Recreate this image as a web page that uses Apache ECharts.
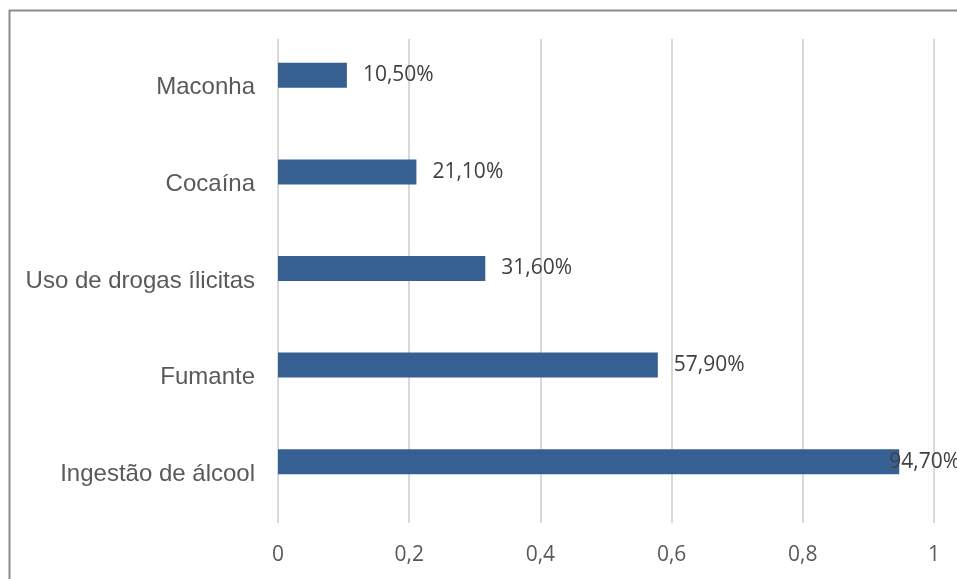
<!DOCTYPE html>
<html>
<head>
<meta charset="utf-8">
<style>
  html, body { margin: 0; padding: 0; background: #fff; }
  #chart { width: 957px; height: 579px; }
</style>
<script src="https://cdn.jsdelivr.net/npm/echarts@6/dist/echarts.min.js"></script>
</head>
<body>
<div id="chart"></div>
<script>
// Categories listed bottom to top (category y axis starts at the bottom)
const categories = ['Ingestão de álcool', 'Fumante', 'Uso de drogas ílicitas', 'Cocaína', 'Maconha'];
const values = [0.947, 0.579, 0.316, 0.211, 0.105];
const valueLabels = ['94,70%', '57,90%', '31,60%', '21,10%', '10,50%'];
const xTicks = [0, 0.2, 0.4, 0.6, 0.8, 1];

const chart = echarts.init(document.getElementById('chart'));

const fmtTick = v => String(+v.toFixed(1)).replace('.', ',');

const barData = values.map((v, i) => {
  const item = { value: v };
  // labels that would run past the plot edge are pulled back over the bar end
  if (v > 0.9) item.label = { offset: [-26, 0] };
  return item;
});

const option = {
  animation: false,
  graphic: [{
    type: 'rect',
    shape: { x: 9.5, y: 10.5, width: 1200, height: 1200 },
    style: { fill: 'none', stroke: '#8c8c8c', lineWidth: 2 },
    silent: true
  }],
  grid: [
    { left: 278, right: 23, top: 39, bottom: 56 },
    { left: 278, right: 23, top: 27, bottom: 69 }
  ],
  xAxis: [
    {
      gridIndex: 0, type: 'value', min: xTicks[0], max: xTicks[xTicks.length - 1], interval: 0.2,
      axisLine: { show: false }, axisTick: { show: false },
      splitLine: { show: true, lineStyle: { color: '#d9d9d9', width: 2 } },
      axisLabel: {
        margin: 22, color: '#595959', fontFamily: 'Open Sans', fontSize: 21,
        formatter: fmtTick
      }
    },
    {
      gridIndex: 1, type: 'value', min: xTicks[0], max: xTicks[xTicks.length - 1], interval: 0.2, show: false,
      splitLine: { show: false }
    }
  ],
  yAxis: [
    {
      gridIndex: 0, type: 'category', data: categories,
      axisLine: { show: false }, axisTick: { show: false },
      axisLabel: {
        margin: 23, color: '#595959', fontFamily: 'Liberation Sans', fontSize: 24
      }
    },
    {
      gridIndex: 1, type: 'category', data: categories, show: false
    }
  ],
  series: [{
    type: 'bar',
    xAxisIndex: 1, yAxisIndex: 1,
    data: barData,
    barWidth: 25,
    itemStyle: { color: '#366092' },
    label: {
      show: true, position: 'right', distance: 16,
      color: '#404040', fontFamily: 'Open Sans', fontSize: 21,
      formatter: p => valueLabels[p.dataIndex]
    }
  }]
};

chart.setOption(option);
</script>
</body>
</html>
